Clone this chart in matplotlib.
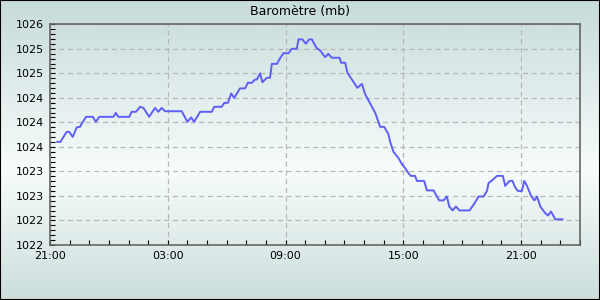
import numpy as np
import matplotlib
matplotlib.use("Agg")
import matplotlib.pyplot as plt
from matplotlib.ticker import MultipleLocator, FuncFormatter, AutoMinorLocator

# heures depuis 21:00 et pression (mb)
heures = [0.37, 0.53, 0.85, 0.98, 1.16, 1.36, 1.53, 1.62, 1.84, 2.18, 2.33, 2.51,
          3.23, 3.35, 3.48, 4.04, 4.16, 4.38, 4.59, 4.76, 5.05, 5.35, 5.52, 5.69,
          5.86, 6.71, 7.0, 7.19, 7.34, 7.65, 8.24, 8.37, 8.75, 8.88, 9.06, 9.23,
          9.38, 9.68, 9.94, 10.08, 10.28, 10.45, 10.54, 10.7, 10.82, 11.05, 11.21,
          11.3, 11.56, 11.72, 11.89, 12.15, 12.32, 12.57, 12.66, 12.86, 13.03,
          13.2, 13.34, 13.59, 13.76, 14.02, 14.18, 14.36, 14.75, 14.83, 15.04,
          15.15, 15.38, 15.66, 15.89, 16.06, 16.31, 16.57, 16.73, 16.82, 17.02,
          17.24, 17.33, 17.5, 17.75, 17.93, 18.09, 18.26, 18.38, 18.6, 18.69,
          19.06, 19.2, 19.54, 19.71, 19.83, 20.05, 20.22, 20.34, 20.51, 20.68,
          20.86, 21.37, 21.63, 21.83, 22.09, 22.26, 22.34, 22.59, 22.77, 23.07,
          23.19, 23.41, 23.56, 23.7, 23.84, 24.04, 24.16, 24.3, 24.52, 24.68,
          24.81, 24.98, 25.23, 25.37, 25.52, 25.62, 25.74, 26.11]
pression = [1023.60, 1023.60, 1023.78, 1023.78, 1023.69, 1023.86, 1023.87, 1023.93,
            1024.05, 1024.05, 1023.96, 1024.05, 1024.05, 1024.12, 1024.05, 1024.05,
            1024.14, 1024.14, 1024.23, 1024.21, 1024.05, 1024.21, 1024.14, 1024.21,
            1024.15, 1024.15, 1023.96, 1024.04, 1023.96, 1024.14, 1024.14, 1024.23,
            1024.23, 1024.30, 1024.30, 1024.47, 1024.39, 1024.56, 1024.56, 1024.66,
            1024.66, 1024.72, 1024.72, 1024.83, 1024.67, 1024.75, 1024.75, 1025.00,
            1025.00, 1025.10, 1025.19, 1025.19, 1025.27, 1025.27, 1025.44, 1025.44,
            1025.36, 1025.44, 1025.44, 1025.28, 1025.24, 1025.12, 1025.18, 1025.11,
            1025.11, 1025.02, 1025.02, 1024.84, 1024.72, 1024.57, 1024.64, 1024.45,
            1024.29, 1024.12, 1023.96, 1023.87, 1023.87, 1023.74, 1023.60, 1023.42,
            1023.31, 1023.20, 1023.13, 1023.04, 1022.99, 1022.99, 1022.90, 1022.90,
            1022.73, 1022.73, 1022.62, 1022.55, 1022.55, 1022.62, 1022.44, 1022.37,
            1022.44, 1022.37, 1022.37, 1022.50, 1022.62, 1022.62, 1022.72, 1022.86,
            1022.93, 1022.99, 1022.99, 1022.81, 1022.90, 1022.90, 1022.78, 1022.72,
            1022.72, 1022.90, 1022.81, 1022.62, 1022.55, 1022.62, 1022.44, 1022.32,
            1022.28, 1022.35, 1022.29, 1022.21, 1022.21]

heure_debut = 21
y_min, y_pas = 1021.75, 0.44

fig = plt.figure(figsize=(6, 3), dpi=100)

# fond en degrade
fond = fig.add_axes([0, 0, 1, 1], zorder=-1)
h = np.linspace(0, 1, 300)
haut = np.array([0.78, 0.86, 0.85])
milieu = np.array([0.97, 0.99, 0.99])
bas = np.array([0.80, 0.87, 0.86])
k = 0.57
cols = np.where(h[:, None] < k,
                haut + (milieu - haut) * (h[:, None] / k),
                milieu + (bas - milieu) * ((h[:, None] - k) / (1 - k)))
fond.imshow(cols[:, None, :], aspect="auto", extent=[0, 1, 0, 1])
fond.set_xticks([])
fond.set_yticks([])
for s in fond.spines.values():
    s.set_color("black")
    s.set_linewidth(1.5)

ax = fig.add_axes([50/600, 55/300, 530/600, 220.7/300])
ax.set_facecolor("none")
ax.plot(heures, pression, color="#5f5ff8", lw=1.4, zorder=3)

ax.set_xlim(0, 27)
ax.set_ylim(y_min, y_min + 9 * y_pas)
ax.xaxis.set_major_locator(MultipleLocator(6))
ax.xaxis.set_minor_locator(MultipleLocator(1))
ax.xaxis.set_major_formatter(FuncFormatter(lambda v, p: "%02d:00" % ((heure_debut + int(round(v))) % 24)))
ax.set_yticks([y_min + i * y_pas for i in range(10)])
ax.yaxis.set_minor_locator(AutoMinorLocator(5))
ax.yaxis.set_major_formatter(FuncFormatter(lambda v, p: "%.0f" % v))

ax.tick_params(which="both", direction="in", length=3.5, width=0.8, color="black",
               labelsize=8, top=False, right=False)
ax.tick_params(axis="y", pad=4.5)
ax.tick_params(axis="x", pad=4)
ax.grid(True, which="major", color="#b8b8b8", ls=(0, (4, 3)), lw=0.9)
for s in ax.spines.values():
    s.set_color("#666666")
    s.set_linewidth(1.2)

fig.text(0.5, 1 - 12/300, "Baromètre (mb)", ha="center", va="center", fontsize=9)

fig.savefig("out.png", dpi=100)
